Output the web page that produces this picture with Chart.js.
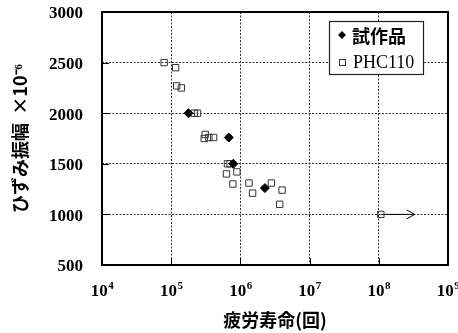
<!DOCTYPE html>
<html><head><meta charset="utf-8">
<script src="https://cdn.jsdelivr.net/npm/chart.js@4/dist/chart.umd.min.js"></script>
<style>html,body{margin:0;padding:0;background:#fff}#wrap{width:458px;height:333px}</style>
</head><body><div id="wrap"><canvas id="c" width="458" height="333"></canvas></div>
<script>
// Data
const trialX = [1.78e5, 6.8e5, 7.9e5, 2.26e6];
const trialY = [2000, 1760, 1500, 1260];
const phcX = [7.9e4, 1.16e5, 1.2e5, 1.4e5, 2.15e5, 2.4e5, 3.1e5, 3.0e5, 3.5e5, 4.1e5, 6.5e5, 7.1e5, 6.3e5, 8.9e5, 7.8e5, 1.33e6, 1.5e6, 2.8e6, 4.0e6, 3.7e6, 1.07e8];
const phcY = [2500, 2450, 2270, 2250, 2000, 2000, 1790, 1750, 1760, 1760, 1500, 1500, 1400, 1420, 1300, 1310, 1210, 1310, 1240, 1100, 1000];
const arrowX = [1.07e8, 3.3e8];
const arrowY = [1000, 1000];
const xTickValues = [1e4, 1e5, 1e6, 1e7, 1e8, 1e9];
const xTickBase = '10';
const xTickExponents = ['4', '5', '6', '7', '8', '9'];
const yTickValues = [500, 1000, 1500, 2000, 2500, 3000];
const seriesNames = ['試作品', 'PHC110'];
const xTitle = '疲労寿命(回)';
const yTitle = 'ひずみ振幅  ×10⁻⁶';

const pts = (xs, ys) => xs.map((v, i) => ({x: v, y: ys[i]}));

const overlay = {
  id: 'overlay',
  afterDraw(chart) {
    const {ctx, chartArea: a, scales: {x, y}} = chart;
    ctx.save();
    ctx.strokeStyle = '#000'; ctx.lineWidth = 1; ctx.setLineDash([]);
    xTickValues.forEach(v => {
      const px = Math.round(x.getPixelForValue(v)) + 0.5;
      ctx.beginPath(); ctx.moveTo(px, a.bottom); ctx.lineTo(px, a.bottom - 7); ctx.stroke();
    });
    yTickValues.forEach(v => {
      const py = Math.round(y.getPixelForValue(v)) + 0.5;
      ctx.beginPath(); ctx.moveTo(a.left, py); ctx.lineTo(a.left + 7, py); ctx.stroke();
    });
    ctx.lineWidth = 2;
    ctx.strokeRect(a.left, a.top, a.right - a.left, a.bottom - a.top);
    ctx.fillStyle = '#000'; ctx.textBaseline = 'middle'; ctx.textAlign = 'left';
    xTickValues.forEach((v, i) => {
      const px = x.getPixelForValue(v);
      ctx.font = 'bold 17px "Liberation Serif"';
      const w1 = ctx.measureText(xTickBase).width;
      ctx.font = 'bold 11px "Liberation Serif"';
      const w2 = ctx.measureText(xTickExponents[i]).width;
      const sx = px - (w1 + w2) / 2;
      ctx.font = 'bold 17px "Liberation Serif"';
      ctx.fillText(xTickBase, sx, a.bottom + 27);
      ctx.font = 'bold 11px "Liberation Serif"';
      ctx.fillText(xTickExponents[i], sx + w1 + 0.5, a.bottom + 21);
    });
    const ex = x.getPixelForValue(arrowX[1]), ey = y.getPixelForValue(arrowY[1]);
    ctx.lineWidth = 1;
    ctx.beginPath(); ctx.moveTo(ex - 8, ey - 4.5); ctx.lineTo(ex, ey); ctx.lineTo(ex - 8, ey + 4.5); ctx.stroke();
    const lx = 329, ly = 21, lw = 94, lh = 53;
    ctx.fillStyle = '#fff'; ctx.fillRect(lx, ly, lw, lh);
    ctx.lineWidth = 1.2; ctx.strokeStyle = '#222'; ctx.strokeRect(lx + 0.5, ly + 0.5, lw, lh);
    ctx.fillStyle = '#000';
    ctx.beginPath(); ctx.moveTo(342, 31); ctx.lineTo(346, 35); ctx.lineTo(342, 39); ctx.lineTo(338, 35); ctx.closePath(); ctx.fill();
    ctx.strokeStyle = '#333'; ctx.lineWidth = 1;
    ctx.strokeRect(339.5, 59.5, 6, 6);
    ctx.fillStyle = '#000'; ctx.textBaseline = 'middle'; ctx.textAlign = 'left';
    ctx.font = 'bold 18px "Noto Sans CJK JP"';
    ctx.fillText(seriesNames[0], 352, 36);
    ctx.font = '18px "Liberation Serif"';
    ctx.fillText(seriesNames[1], 353, 63);
    ctx.restore();
  }
};

new Chart(document.getElementById('c'), {
  type: 'scatter',
  data: {
    datasets: [
      {label: seriesNames[1], data: pts(phcX, phcY), pointStyle: 'rect', pointRadius: 4.5, pointHoverRadius: 4.5,
       backgroundColor: 'rgba(255,255,255,0)', borderColor: '#333', borderWidth: 1, order: 2},
      {label: seriesNames[0], data: pts(trialX, trialY), pointStyle: 'rectRot', pointRadius: 4.5, pointHoverRadius: 4.5,
       backgroundColor: '#000', borderColor: '#000', borderWidth: 1, order: 1},
      {label: 'arrow', type: 'line', data: pts(arrowX, arrowY), showLine: true, pointRadius: 0,
       borderColor: '#000', borderWidth: 1, fill: false, order: 3}
    ]
  },
  options: {
    responsive: false, animation: false,
    layout: {padding: {top: 12, right: 10, left: 0, bottom: 0}},
    plugins: {legend: {display: false}, tooltip: {enabled: false}},
    scales: {
      x: {
        type: 'logarithmic', min: 1e4, max: 1e9,
        afterBuildTicks: s => { s.ticks = xTickValues.map(v => ({value: v})); },
        afterFit: s => { s.height = 68; s.paddingLeft = 0; s.paddingRight = 0; },
        ticks: {display: false},
        grid: {color: '#333', lineWidth: 1, drawTicks: false},
        border: {display: false, dash: [2, 1.5]},
        title: {display: true, text: xTitle, color: '#000', padding: {top: 0, bottom: 2},
                font: {family: '"Noto Sans CJK JP"', size: 18, weight: 'bold'}}
      },
      y: {
        min: 500, max: 3000,
        afterBuildTicks: s => { s.ticks = yTickValues.map(v => ({value: v})); },
        afterFit: s => { s.width = 102; s.paddingTop = 0; s.paddingBottom = 0; },
        ticks: {color: '#000', padding: 19, labelOffset: 2, callback: v => String(v),
                font: {family: '"Liberation Serif"', size: 17, weight: 'bold'}},
        grid: {color: '#333', lineWidth: 1, drawTicks: false},
        border: {display: false, dash: [2, 1.5]},
        title: {display: true, text: yTitle, color: '#000', padding: {top: 9},
                font: {family: '"Noto Sans CJK JP"', size: 18, weight: 'bold'}}
      }
    }
  },
  plugins: [overlay]
});
</script></body></html>
